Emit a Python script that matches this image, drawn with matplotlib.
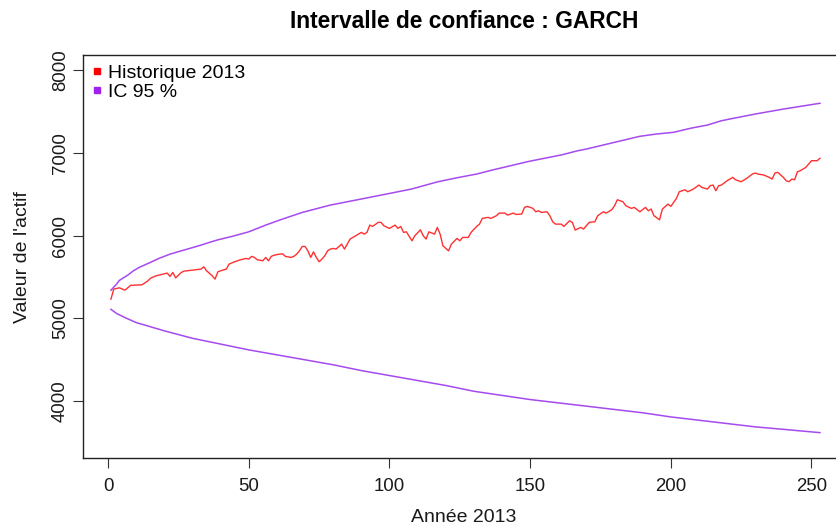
import numpy as np
import matplotlib.pyplot as plt
from matplotlib.lines import Line2D

plt.rcParams['font.family'] = ['Liberation Sans', 'DejaVu Sans']

# Historique 2013 (day index, value)
hist_t = [1, 2, 4, 6, 8, 12, 14, 15, 17, 21, 22, 23, 24, 26, 27, 29, 31, 33, 34, 35,
          37, 38, 39, 40, 42, 43, 45, 47, 49, 50, 51, 52, 53, 55, 56, 57, 58, 59, 61, 62,
          63, 65, 66, 67, 68, 69, 70, 71, 72, 73, 74, 75, 76, 77, 78, 79, 80, 81, 83, 84,
          86, 88, 90, 91, 92, 93, 94, 96, 97, 98, 100, 102, 103, 104, 105, 106, 108, 109, 111, 112,
          113, 114, 116, 117, 118, 119, 121, 122, 124, 125, 126, 128, 129, 131, 132, 133, 135, 136, 138, 139,
          141, 142, 144, 145, 147, 148, 149, 151, 152, 153, 154, 156, 157, 158, 159, 161, 162, 164, 165, 166,
          168, 169, 170, 171, 173, 174, 176, 177, 179, 180, 181, 183, 184, 186, 187, 189, 191, 192, 193, 194,
          196, 197, 199, 200, 202, 203, 205, 206, 208, 210, 211, 213, 214, 215, 216, 217, 218, 220, 222, 223,
          225, 227, 229, 230, 231, 233, 235, 236, 237, 238, 240, 241, 242, 243, 244, 245, 246, 248, 249, 250,
          252, 253]
hist_v = [5233, 5354, 5370, 5342, 5400, 5406, 5450, 5484, 5515, 5548, 5508, 5556, 5490, 5556, 5572, 5580, 5588, 5596, 5624, 5576,
          5515, 5475, 5563, 5576, 5596, 5657, 5685, 5709, 5725, 5717, 5750, 5737, 5709, 5697, 5737, 5697, 5750, 5765, 5777, 5781,
          5750, 5737, 5750, 5777, 5817, 5870, 5870, 5817, 5737, 5805, 5737, 5685, 5717, 5757, 5817, 5838, 5846, 5838, 5898, 5838,
          5959, 5999, 6040, 6019, 6040, 6128, 6112, 6161, 6161, 6120, 6088, 6128, 6088, 6112, 6040, 6047, 5938, 5999, 6071, 5999,
          5959, 6047, 6019, 6100, 6019, 5878, 5817, 5898, 5967, 5938, 5979, 5979, 6040, 6112, 6140, 6209, 6221, 6209, 6241, 6273,
          6273, 6249, 6273, 6257, 6261, 6342, 6354, 6330, 6289, 6301, 6281, 6289, 6241, 6168, 6140, 6140, 6112, 6180, 6161, 6068,
          6100, 6080, 6120, 6161, 6168, 6241, 6289, 6273, 6313, 6362, 6434, 6410, 6362, 6330, 6342, 6289, 6342, 6301, 6322, 6241,
          6192, 6322, 6382, 6354, 6451, 6531, 6555, 6531, 6563, 6612, 6584, 6563, 6604, 6612, 6543, 6604, 6612, 6664, 6705, 6676,
          6652, 6693, 6745, 6757, 6745, 6733, 6705, 6684, 6757, 6765, 6705, 6664, 6652, 6684, 6676, 6773, 6785, 6826, 6866, 6906,
          6906, 6935]

# IC 95 % bands
up_t = [1, 3, 4, 7, 9, 11, 15, 18, 22, 26, 29, 33, 36, 39, 44, 50, 56, 62, 69, 79,
        91, 102, 108, 117, 124, 131, 137, 143, 149, 155, 161, 167, 170, 189, 195, 201, 207,
        213, 218, 221, 230, 240, 253]
up_v = [5341, 5415, 5460, 5524, 5576, 5616, 5677, 5725, 5777, 5817, 5846, 5886, 5919, 5950, 5991, 6047, 6128, 6201, 6281, 6370,
        6450, 6524, 6565, 6650, 6700, 6745, 6797, 6845, 6894, 6935, 6975, 7027, 7047, 7201, 7229, 7249, 7298,
        7337, 7389, 7410, 7470, 7530, 7600]

low_t = [1, 3, 6, 10, 15, 20, 30, 40, 50, 60, 70, 80, 90, 100, 110, 120, 130, 140, 150, 160,
         170, 180, 190, 200, 210, 220, 230, 240, 253]
low_v = [5110, 5060, 5010, 4950, 4900, 4850, 4760, 4690, 4620, 4560, 4500, 4440, 4370, 4310, 4250, 4190, 4120, 4070, 4020, 3980,
         3940, 3900, 3860, 3810, 3770, 3730, 3690, 3660, 3620]

fig = plt.figure(figsize=(8.37, 5.28), dpi=100)
ax = fig.add_axes([0.0988, 0.132, 0.9112, 0.7633])

ax.plot(hist_t, hist_v, c='#ff3030', lw=1.0)
ax.plot(up_t, up_v, c='#a64af0', lw=1.1)
ax.plot(low_t, low_v, c='#a64af0', lw=1.1)

ax.set_xlim(-9.04, 262.04)
ax.set_ylim(3310, 8180)
ax.set_xticks([0, 50, 100, 150, 200, 250])
ax.set_yticks([4000, 5000, 6000, 7000, 8000])
ax.tick_params(axis='both', direction='out', length=7, width=0.8, colors='#333333', labelcolor='#1a1a1a', labelsize=13.4)
ax.tick_params(axis='x', pad=7)
ax.tick_params(axis='y', pad=3)
for lab in ax.get_yticklabels():
    lab.set_rotation(90)
    lab.set_va('center')
for s in ax.spines.values():
    s.set_linewidth(1.0)
    s.set_color('#222222')

ax.set_xlabel('Année 2013', fontsize=14, color='#1a1a1a', labelpad=10)
ax.set_ylabel("Valeur de l'actif", fontsize=14, color='#1a1a1a', labelpad=15)
ax.set_title('Intervalle de confiance : GARCH', fontsize=16.4, fontweight='bold', pad=20)

handles = [Line2D([], [], ls='none', marker='s', ms=5, color='#ff0000'),
           Line2D([], [], ls='none', marker='s', ms=5, color='#a020f0')]
ax.legend(handles, ['Historique 2013', 'IC 95 %'], loc='upper left', frameon=False,
          fontsize=14, handlelength=0.6, handletextpad=0.25, labelspacing=0.1,
          borderaxespad=0.1, borderpad=0.35)

fig.savefig('out.png', dpi=100)
